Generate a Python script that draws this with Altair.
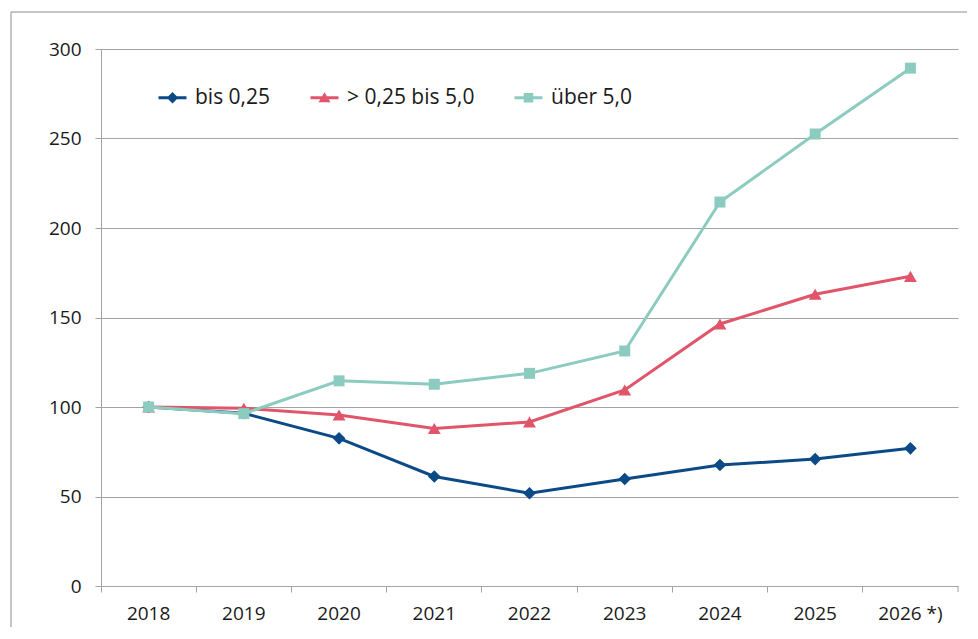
import altair as alt
import pandas as pd

# ---- data ----
years = ["2018", "2019", "2020", "2021", "2022", "2023", "2024", "2025", "2026 *)"]
series_names = ["bis 0,25", "> 0,25 bis 5,0", "über 5,0"]
bis_025 = [100, 96.5, 82.5, 61.2, 51.8, 59.8, 67.6, 70.9, 76.9]
mid_025_50 = [100, 99.3, 95.5, 88.0, 91.6, 109.5, 146.4, 163.0, 173.0]
ueber_50 = [100, 96.3, 114.6, 112.7, 118.8, 131.3, 214.5, 252.5, 289.3]
y_ticks = [0, 50, 100, 150, 200, 250, 300]

colors = ["#0b4a86", "#e0556a", "#8ccbbf"]
shapes = ["diamond", "triangle-up", "square"]
marker_sizes = [160, 165, 121]
legend_paths = [
    "M-2.8,-0.3H2.8V0.3H-2.8Z M0,-1.15L1.15,0L0,1.15L-1.15,0Z",
    "M-2.8,-0.3H2.8V0.3H-2.8Z M0,-1.1L1.2,0.9L-1.2,0.9Z",
    "M-2.8,-0.3H2.8V0.3H-2.8Z M-0.95,-0.95H0.95V0.95H-0.95Z",
]

rows = []
for name, vals in zip(series_names, [bis_025, mid_025_50, ueber_50]):
    for yr, v in zip(years, vals):
        rows.append({"Jahr": yr, "Reihe": name, "Wert": v})
df = pd.DataFrame(rows)

W, H = 857, 537
FONT = "Open Sans"
GRAY = "#a3a3a3"

x_enc = alt.X(
    "Jahr:N",
    sort=years,
    scale=alt.Scale(type="band", domain=years, paddingInner=0, paddingOuter=0),
    axis=alt.Axis(
        title=None, labelAngle=0, bandPosition=0, tickSize=6, labelPadding=12,
        grid=False, domainColor=GRAY, tickColor=GRAY,
    ),
)
y_enc = alt.Y(
    "Wert:Q",
    scale=alt.Scale(domain=[0, 300], nice=False, zero=True),
    axis=alt.Axis(
        title=None, values=y_ticks, tickSize=6, labelPadding=14, grid=True,
        gridColor=GRAY, domainColor=GRAY, tickColor=GRAY,
    ),
)

base = alt.Chart(df)
layers = []
for name, col, shp, sz in zip(series_names, colors, shapes, marker_sizes):
    sub = base.transform_filter(alt.datum.Reihe == name)
    layers.append(sub.mark_line(color=col, strokeWidth=3).encode(x=x_enc, y=y_enc))
    layers.append(
        sub.mark_point(shape=shp, filled=True, opacity=1, color=col, size=sz)
        .encode(x=x_enc, y=y_enc)
    )

legend_props = dict(
    title=None, orient="none", legendX=61, legendY=38, direction="horizontal",
    labelFont=FONT, labelFontSize=21, labelColor="#1a1a1a", labelOffset=12,
    columnPadding=39, symbolSize=100, symbolStrokeWidth=0, padding=0,
)
legend_layer = (
    base.transform_filter("false")
    .mark_point(filled=True, opacity=1, size=100)
    .encode(
        x=x_enc,
        y=y_enc,
        color=alt.Color(
            "Reihe:N",
            scale=alt.Scale(domain=series_names, range=colors),
            legend=alt.Legend(**legend_props),
        ),
        shape=alt.Shape(
            "Reihe:N",
            scale=alt.Scale(domain=series_names, range=legend_paths),
            legend=alt.Legend(**legend_props),
        ),
    )
)

one = alt.Data(values=[{"k": 1}])
end_tick = alt.Chart(one).mark_rule(color=GRAY, strokeWidth=1).encode(
    x=alt.value(W), y=alt.value(H), y2=alt.value(H + 6)
)
frame_top = alt.Chart(one).mark_rule(color="#8c8c8c", strokeWidth=1).encode(
    x=alt.value(-90), x2=alt.value(866), y=alt.value(-37)
)
frame_left = alt.Chart(one).mark_rule(color="#8c8c8c", strokeWidth=1).encode(
    x=alt.value(-90), y=alt.value(-37), y2=alt.value(578)
)

chart = (
    alt.layer(frame_top, frame_left, end_tick, *layers, legend_layer)
    .properties(width=W, height=H, padding={"left": 2, "top": 3, "right": 0, "bottom": 0})
    .configure_view(stroke=None)
    .configure_axis(labelFont=FONT, labelFontSize=19, labelColor="#1a1a1a")
)

chart.save("out.html", embed_options={"renderer": "svg", "actions": False})
